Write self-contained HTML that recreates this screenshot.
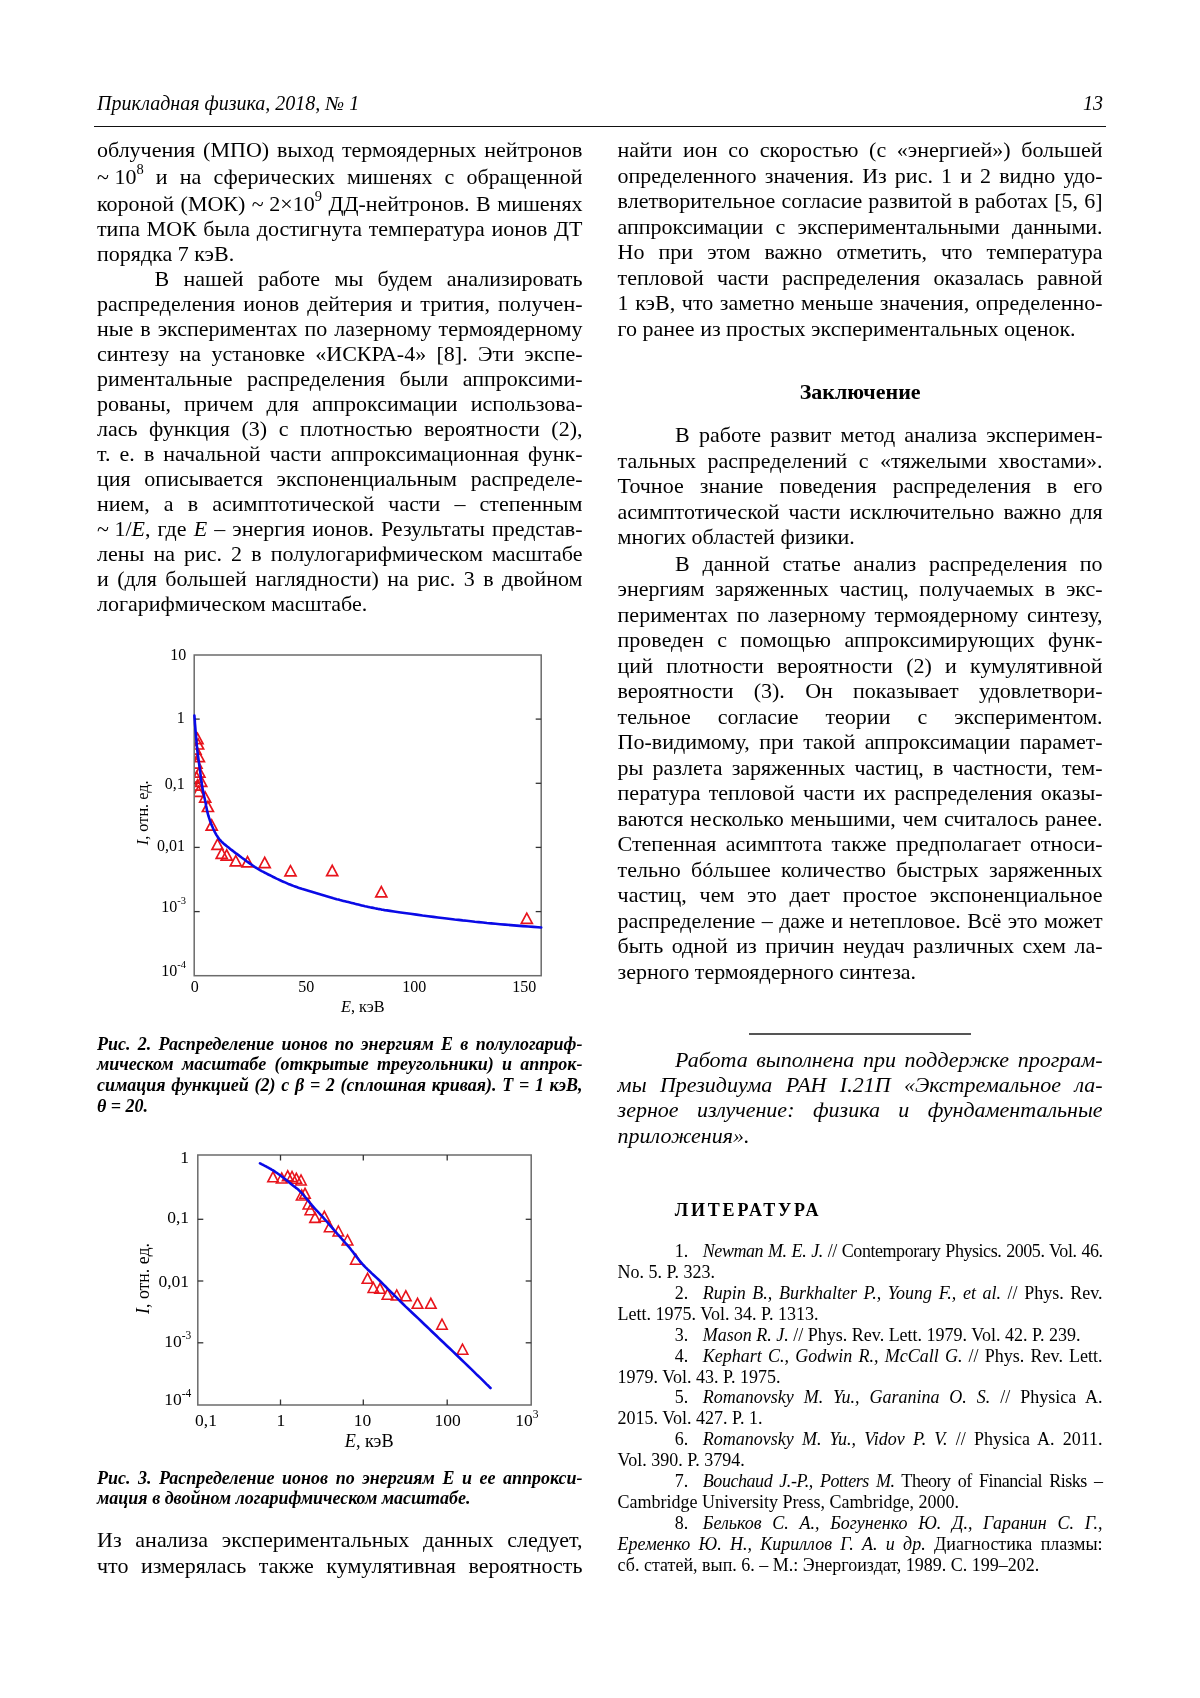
<!DOCTYPE html>
<html lang="ru"><head><meta charset="utf-8"><title>Прикладная физика, 2018, № 1</title><style>
html,body{margin:0;padding:0;background:#fff;}
body{width:1200px;height:1698px;position:relative;overflow:hidden;-webkit-font-smoothing:antialiased;font-family:"Liberation Serif","Noto Serif CJK SC",serif;color:#000;}
.l{position:absolute;white-space:nowrap;line-height:30px;height:30px;}
#pg{position:absolute;left:0;top:0;width:1200px;height:1698px;will-change:transform;}
.b{font-size:22px;}
.bi{font-size:22px;font-style:italic;}
.bb{font-size:22px;font-weight:bold;}
.hd{font-size:20px;font-style:italic;}
.lit{font-size:18px;font-weight:bold;letter-spacing:2.83px;}
.rf{font-size:18px;}
.cap{font-size:18px;font-weight:bold;font-style:italic;}
.sup{font-size:14.5px;position:relative;top:-10px;}
.ns{word-spacing:0;}
.m{display:inline-block;width:0;height:0;}
.fig{position:absolute;left:0;top:0;}
.rule{position:absolute;background:#111;}
</style></head><body><div id="pg">
<div class="rule" style="left:94px;top:125.6px;width:1012.3px;height:1.4px"></div><div class="rule" style="left:749px;top:1033.1px;width:222px;height:1.5px;background:#555"></div>
<div class="l hd" style="top:87.80px;left:97.00px;">Прикладная физика, 2018, № 1</div>
<div class="l hd" style="top:87.80px;right:97.00px;">13</div>
<div class="l b" style="top:135.10px;left:97.00px;word-spacing:2.488px;">облучения (МПО) выход термоядерных нейтронов</div>
<div class="l b" style="top:161.60px;left:97.00px;word-spacing:6.674px;"><span>~<span class="ns">&nbsp;</span>10<span class="sup">8</span> и на сферических мишенях с обращенной</span></div>
<div class="l b" style="top:188.60px;left:97.00px;word-spacing:0.972px;"><span>короной (МОК) ~<span class="ns">&nbsp;</span>2×10<span class="sup">9</span> ДД-нейтронов. В мишенях</span></div>
<div class="l b" style="top:213.60px;left:97.00px;word-spacing:1.148px;">типа МОК была достигнута температура ионов ДТ</div>
<div class="l b" style="top:238.75px;left:97.00px;">порядка 7 кэВ.</div>
<div class="l b" style="top:263.75px;left:154.50px;word-spacing:8.909px;">В нашей работе мы будем анализировать</div>
<div class="l b" style="top:288.75px;left:97.00px;word-spacing:2.616px;">распределения ионов дейтерия и трития, получен-</div>
<div class="l b" style="top:313.75px;left:97.00px;word-spacing:1.475px;">ные в экспериментах по лазерному термоядерному</div>
<div class="l b" style="top:338.75px;left:97.00px;word-spacing:4.857px;">синтезу на установке «ИСКРА-4» [8]. Эти экспе-</div>
<div class="l b" style="top:363.75px;left:97.00px;word-spacing:9.000px;">риментальные распределения были аппроксими-</div>
<div class="l b" style="top:388.75px;left:97.00px;word-spacing:7.660px;">рованы, причем для аппроксимации использова-</div>
<div class="l b" style="top:413.75px;left:97.00px;word-spacing:6.081px;">лась функция (3) с плотностью вероятности (2),</div>
<div class="l b" style="top:438.75px;left:97.00px;word-spacing:3.576px;">т. е. в начальной части аппроксимационная функ-</div>
<div class="l b" style="top:463.75px;left:97.00px;word-spacing:8.203px;">ция описывается экспоненциальным распределе-</div>
<div class="l b" style="top:488.75px;left:97.00px;word-spacing:8.630px;">нием, а в асимптотической части – степенным</div>
<div class="l b" style="top:513.75px;left:97.00px;word-spacing:1.625px;"><span>~<span class="ns">&nbsp;</span>1/<i>E</i>, где <i>E</i> – энергия ионов. Результаты представ-</span></div>
<div class="l b" style="top:538.75px;left:97.00px;word-spacing:3.578px;">лены на рис. 2 в полулогарифмическом масштабе</div>
<div class="l b" style="top:563.75px;left:97.00px;word-spacing:2.967px;">и (для большей наглядности) на рис. 3 в двойном</div>
<div class="l b" style="top:588.75px;left:97.00px;">логарифмическом масштабе.</div>
<div class="l b" style="top:1525.40px;left:97.00px;word-spacing:8.262px;">Из анализа экспериментальных данных следует,</div>
<div class="l b" style="top:1550.80px;left:97.00px;word-spacing:6.988px;">что измерялась также кумулятивная вероятность</div>
<div class="l b" style="top:135.25px;left:617.60px;word-spacing:5.188px;">найти ион со скоростью (с «энергией») большей</div>
<div class="l b" style="top:160.73px;left:617.60px;word-spacing:2.629px;">определенного значения. Из рис. 1 и 2 видно удо-</div>
<div class="l b" style="top:186.21px;left:617.60px;word-spacing:0.674px;">влетворительное согласие развитой в работах [5, 6]</div>
<div class="l b" style="top:211.69px;left:617.60px;word-spacing:6.823px;">аппроксимации с экспериментальными данными.</div>
<div class="l b" style="top:237.17px;left:617.60px;word-spacing:8.565px;">Но при этом важно отметить, что температура</div>
<div class="l b" style="top:262.65px;left:617.60px;word-spacing:7.680px;">тепловой части распределения оказалась равной</div>
<div class="l b" style="top:288.13px;left:617.60px;word-spacing:1.117px;">1 кэВ, что заметно меньше значения, определенно-</div>
<div class="l b" style="top:313.61px;left:617.60px;">го ранее из простых экспериментальных оценок.</div>
<div class="l bb" style="top:377.20px;left:860.20px;transform:translateX(-50%);">Заключение</div>
<div class="l b" style="top:420.00px;left:675.10px;word-spacing:3.666px;">В работе развит метод анализа эксперимен-</div>
<div class="l b" style="top:445.50px;left:617.60px;word-spacing:6.016px;">тальных распределений с «тяжелыми хвостами».</div>
<div class="l b" style="top:471.00px;left:617.60px;word-spacing:10.594px;">Точное знание поведения распределения в его</div>
<div class="l b" style="top:496.50px;left:617.60px;word-spacing:3.543px;">асимптотической части исключительно важно для</div>
<div class="l b" style="top:522.00px;left:617.60px;">многих областей физики.</div>
<div class="l b" style="top:548.50px;left:675.10px;word-spacing:7.184px;">В данной статье анализ распределения по</div>
<div class="l b" style="top:574.00px;left:617.60px;word-spacing:5.203px;">энергиям заряженных частиц, получаемых в экс-</div>
<div class="l b" style="top:599.50px;left:617.60px;word-spacing:3.234px;">периментах по лазерному термоядерному синтезу,</div>
<div class="l b" style="top:625.00px;left:617.60px;word-spacing:7.887px;">проведен с помощью аппроксимирующих функ-</div>
<div class="l b" style="top:650.50px;left:617.60px;word-spacing:7.784px;">ций плотности вероятности (2) и кумулятивной</div>
<div class="l b" style="top:676.00px;left:617.60px;word-spacing:14.789px;">вероятности (3). Он показывает удовлетвори-</div>
<div class="l b" style="top:701.50px;left:617.60px;word-spacing:21.484px;">тельное согласие теории с экспериментом.</div>
<div class="l b" style="top:727.00px;left:617.60px;word-spacing:3.977px;">По-видимому, при такой аппроксимации парамет-</div>
<div class="l b" style="top:752.50px;left:617.60px;word-spacing:3.724px;">ры разлета заряженных частиц, в частности, тем-</div>
<div class="l b" style="top:778.00px;left:617.60px;word-spacing:2.744px;">пература тепловой части их распределения оказы-</div>
<div class="l b" style="top:803.50px;left:617.60px;word-spacing:1.191px;">ваются несколько меньшими, чем считалось ранее.</div>
<div class="l b" style="top:829.00px;left:617.60px;word-spacing:3.805px;">Степенная асимптота также предполагает относи-</div>
<div class="l b" style="top:854.50px;left:617.60px;word-spacing:4.785px;">тельно бóльшее количество быстрых заряженных</div>
<div class="l b" style="top:880.00px;left:617.60px;word-spacing:7.237px;">частиц, чем это дает простое экспоненциальное</div>
<div class="l b" style="top:905.50px;left:617.60px;word-spacing:0.888px;">распределение – даже и нетепловое. Всё это может</div>
<div class="l b" style="top:931.00px;left:617.60px;word-spacing:2.984px;">быть одной из причин неудач различных схем ла-</div>
<div class="l b" style="top:956.50px;left:617.60px;">зерного термоядерного синтеза.</div>
<div class="l bi" style="top:1044.80px;left:675.10px;word-spacing:3.125px;">Работа выполнена при поддержке програм-</div>
<div class="l bi" style="top:1070.13px;left:617.60px;word-spacing:7.888px;">мы Президиума РАН I.21П «Экстремальное ла-</div>
<div class="l bi" style="top:1095.46px;left:617.60px;word-spacing:12.977px;">зерное излучение: физика и фундаментальные</div>
<div class="l bi" style="top:1120.79px;left:617.60px;">приложения».</div>
<div class="l lit" style="top:1195.25px;left:674.70px;">ЛИТЕРАТУРА</div>
<div class="l rf" style="top:1236.20px;left:674.80px;">1.</div>
<div class="l rf" style="top:1236.20px;left:702.80px;letter-spacing:-0.45px;word-spacing:0.914px;"><span><i>Newman M. E. J.</i> // Contemporary Physics. 2005. Vol. 46.</span></div>
<div class="l rf" style="top:1257.09px;left:617.60px;">No. 5. P. 323.</div>
<div class="l rf" style="top:1277.98px;left:674.80px;">2.</div>
<div class="l rf" style="top:1277.98px;left:702.80px;word-spacing:2.077px;"><span><i>Rupin B., Burkhalter P., Young F., et al.</i> // Phys. Rev.</span></div>
<div class="l rf" style="top:1298.87px;left:617.60px;">Lett. 1975. Vol. 34. P. 1313.</div>
<div class="l rf" style="top:1319.76px;left:674.80px;">3.</div>
<div class="l rf" style="top:1319.76px;left:702.80px;"><span><i>Mason R. J.</i> // Phys. Rev. Lett. 1979. Vol. 42. P. 239.</span></div>
<div class="l rf" style="top:1340.65px;left:674.80px;">4.</div>
<div class="l rf" style="top:1340.65px;left:702.80px;word-spacing:1.717px;"><span><i>Kephart C., Godwin R., McCall G.</i> // Phys. Rev. Lett.</span></div>
<div class="l rf" style="top:1361.54px;left:617.60px;">1979. Vol. 43. P. 1975.</div>
<div class="l rf" style="top:1382.43px;left:674.80px;">5.</div>
<div class="l rf" style="top:1382.43px;left:702.80px;word-spacing:5.432px;"><span><i>Romanovsky M. Yu., Garanina O. S.</i> // Physica A.</span></div>
<div class="l rf" style="top:1403.32px;left:617.60px;">2015. Vol. 427. P. 1.</div>
<div class="l rf" style="top:1424.21px;left:674.80px;">6.</div>
<div class="l rf" style="top:1424.21px;left:702.80px;word-spacing:3.681px;"><span><i>Romanovsky M. Yu., Vidov P. V.</i> // Physica A. 2011.</span></div>
<div class="l rf" style="top:1445.10px;left:617.60px;">Vol. 390. P. 3794.</div>
<div class="l rf" style="top:1465.99px;left:674.80px;">7.</div>
<div class="l rf" style="top:1465.99px;left:702.80px;letter-spacing:-0.45px;word-spacing:3.102px;"><span><i>Bouchaud J.-P., Potters M.</i> Theory of Financial Risks –</span></div>
<div class="l rf" style="top:1486.88px;left:617.60px;">Cambridge University Press, Cambridge, 2000.</div>
<div class="l rf" style="top:1507.77px;left:674.80px;">8.</div>
<div class="l rf" style="top:1507.77px;left:702.80px;word-spacing:6.219px;"><span><i>Бельков С. А., Богуненко Ю. Д., Гаранин С. Г.,</i></span></div>
<div class="l rf" style="top:1528.66px;left:617.60px;word-spacing:3.811px;"><span><i>Еременко Ю. Н., Кириллов Г. А. и др.</i> Диагностика плазмы:</span></div>
<div class="l rf" style="top:1549.55px;left:617.60px;">сб. статей, вып. 6. – М.: Энергоиздат, 1989. С. 199–202.</div>
<div class="l cap" style="top:1028.60px;left:97.00px;word-spacing:2.787px;">Рис. 2. Распределение ионов по энергиям E в полулогариф-</div>
<div class="l cap" style="top:1049.40px;left:97.00px;word-spacing:3.816px;">мическом масштабе (открытые треугольники) и аппрок-</div>
<div class="l cap" style="top:1070.20px;left:97.00px;word-spacing:1.203px;">симация функцией (2) с β = 2 (сплошная кривая). T = 1 кэВ,</div>
<div class="l cap" style="top:1091.00px;left:97.00px;">θ = 20.</div>
<div class="l cap" style="top:1462.90px;left:97.00px;word-spacing:3.026px;">Рис. 3. Распределение ионов по энергиям E и ее аппрокси-</div>
<div class="l cap" style="top:1483.10px;left:97.00px;">мация в двойном логарифмическом масштабе.</div>
<svg class="fig" width="1200" height="1698" viewBox="0 0 1200 1698" font-family="Liberation Serif, serif" fill="#000">
<rect x="194.2" y="655.0" width="347.0" height="320.7" fill="none" stroke="#6b6b6b" stroke-width="1.5"/>
<line x1="194.2" y1="719.1" x2="199.7" y2="719.1" stroke="#333" stroke-width="1.3"/>
<line x1="535.7" y1="719.1" x2="541.2" y2="719.1" stroke="#333" stroke-width="1.3"/>
<line x1="194.2" y1="783.3" x2="199.7" y2="783.3" stroke="#333" stroke-width="1.3"/>
<line x1="535.7" y1="783.3" x2="541.2" y2="783.3" stroke="#333" stroke-width="1.3"/>
<line x1="194.2" y1="847.4" x2="199.7" y2="847.4" stroke="#333" stroke-width="1.3"/>
<line x1="535.7" y1="847.4" x2="541.2" y2="847.4" stroke="#333" stroke-width="1.3"/>
<line x1="194.2" y1="911.6" x2="199.7" y2="911.6" stroke="#333" stroke-width="1.3"/>
<line x1="535.7" y1="911.6" x2="541.2" y2="911.6" stroke="#333" stroke-width="1.3"/>
<g font-size="16" text-anchor="end">
<text x="186.3" y="660.3">10</text>
<text x="184.7" y="722.8">1</text>
<text x="184.7" y="789">0,1</text>
<text x="185.0" y="850.5">0,01</text>
<text x="186" y="911.5">10<tspan font-size="10.5" dy="-7.4">-3</tspan></text>
<text x="186" y="975.7">10<tspan font-size="10.5" dy="-7.4">-4</tspan></text>
</g>
<g font-size="16" text-anchor="middle">
<text x="194.7" y="992">0</text>
<text x="306.2" y="992">50</text>
<text x="414.2" y="992">100</text>
<text x="524.2" y="992">150</text>
</g>
<text x="341" y="1011.7" font-size="16.3"><tspan font-style="italic">E</tspan>, кэВ</text>
<text transform="translate(147.8,812.8) rotate(-90)" font-size="16.3" text-anchor="middle"><tspan font-style="italic">I</tspan>, отн. ед.</text>
<clipPath id="c2"><rect x="194.9" y="655.0" width="346.3" height="320.7"/></clipPath>
<g fill="none" stroke="#e8141c" stroke-width="1.7" clip-path="url(#c2)">
<polygon points="197.5,733.4 192.0,743.6 203.0,743.6"/>
<polygon points="198.1,738.8 192.6,749.0 203.6,749.0"/>
<polygon points="195.5,743.9 190.0,754.1 201.0,754.1"/>
<polygon points="198.9,751.5 193.4,761.7 204.4,761.7"/>
<polygon points="196.5,757.9 191.0,768.1 202.0,768.1"/>
<polygon points="199.4,766.9 193.9,777.1 204.9,777.1"/>
<polygon points="196.5,771.9 191.0,782.1 202.0,782.1"/>
<polygon points="201.2,776.1 195.7,786.3 206.7,786.3"/>
<polygon points="197.5,779.9 192.0,790.1 203.0,790.1"/>
<polygon points="198.5,786.2 193.0,796.4 204.0,796.4"/>
<polygon points="205.2,792.0 199.7,802.2 210.7,802.2"/>
<polygon points="207.9,801.3 202.4,811.5 213.4,811.5"/>
<polygon points="211.7,819.9 206.2,830.1 217.2,830.1"/>
<polygon points="217.5,839.1 212.0,849.3 223.0,849.3"/>
<polygon points="221.7,848.2 216.2,858.4 227.2,858.4"/>
<polygon points="226.7,849.9 221.2,860.1 232.2,860.1"/>
<polygon points="235.8,855.7 230.3,865.9 241.3,865.9"/>
<polygon points="247.5,856.6 242.0,866.8 253.0,866.8"/>
<polygon points="264.7,857.4 259.2,867.6 270.2,867.6"/>
<polygon points="290.5,865.7 285.0,875.9 296.0,875.9"/>
<polygon points="332.2,865.4 326.7,875.6 337.7,875.6"/>
<polygon points="381.3,886.6 375.8,896.8 386.8,896.8"/>
<polygon points="526.8,913.2 521.3,923.4 532.3,923.4"/>
</g>
<polyline points="194.4,715.5 194.5,716.8 194.6,718.5 194.8,720.5 194.9,722.8 195.1,725.2 195.3,727.6 195.5,730.1 195.7,732.4 195.9,734.7 196.1,737.0 196.3,739.4 196.5,741.8 196.7,744.1 196.9,746.5 197.2,748.9 197.4,751.2 197.7,753.5 198.0,755.7 198.3,757.9 198.6,760.2 198.9,762.4 199.2,764.5 199.5,766.7 199.8,768.9 200.1,771.1 200.4,773.3 200.6,775.5 200.9,777.7 201.2,779.8 201.5,782.0 201.8,784.0 202.1,786.0 202.4,787.9 202.8,789.7 203.1,791.4 203.5,793.1 203.9,794.8 204.2,796.5 204.6,798.2 205.0,800.0 205.4,801.9 205.8,803.8 206.1,805.8 206.5,807.8 206.9,809.7 207.3,811.7 207.8,813.6 208.3,815.5 208.9,817.3 209.5,819.2 210.1,821.0 210.8,822.8 211.4,824.6 212.2,826.3 212.9,827.9 213.6,829.5 214.3,831.0 215.0,832.4 215.8,833.8 216.5,835.1 217.3,836.3 218.1,837.6 219.0,838.8 220.0,840.0 221.1,841.2 222.2,842.3 223.3,843.3 224.6,844.4 225.9,845.4 227.2,846.5 228.6,847.6 230.0,848.7 231.5,849.9 233.1,851.1 234.7,852.4 236.4,853.7 238.2,854.9 239.9,856.2 241.6,857.5 243.3,858.7 245.0,859.9 246.6,861.2 248.3,862.4 250.0,863.6 251.7,864.8 253.4,866.0 255.0,867.1 256.7,868.2 258.4,869.2 260.0,870.2 261.7,871.1 263.4,871.9 265.0,872.8 266.7,873.6 268.3,874.5 270.0,875.3 271.7,876.1 273.3,877.0 275.0,877.8 276.6,878.6 278.3,879.4 280.0,880.2 281.6,881.0 283.3,881.7 285.0,882.4 286.6,883.1 288.3,883.9 290.0,884.5 291.7,885.2 293.4,885.9 295.0,886.5 296.7,887.1 298.4,887.7 300.0,888.2 301.7,888.8 303.4,889.3 305.0,889.8 306.7,890.3 308.3,890.8 310.0,891.3 311.7,891.8 313.3,892.3 315.0,892.8 316.6,893.3 318.3,893.8 320.0,894.3 321.6,894.8 323.3,895.3 325.0,895.8 326.6,896.3 328.3,896.8 330.0,897.3 331.7,897.8 333.4,898.3 335.0,898.7 336.7,899.2 338.4,899.6 340.0,900.1 341.7,900.5 343.4,900.9 345.0,901.3 346.7,901.7 348.3,902.1 350.0,902.5 351.7,902.9 353.3,903.3 355.0,903.8 356.6,904.2 358.3,904.6 360.0,905.0 361.6,905.4 363.3,905.8 365.0,906.2 366.6,906.5 368.3,906.9 370.0,907.3 371.7,907.6 373.4,907.9 375.0,908.3 376.7,908.6 378.2,908.9 379.3,909.1 380.4,909.3 381.5,909.6 382.8,909.8 384.6,910.1 386.9,910.4 390.0,910.9 394.0,911.5 398.9,912.2 404.5,913.0 410.4,913.8 416.5,914.6 422.5,915.5 428.2,916.2 433.3,916.9 437.9,917.5 442.3,918.0 446.6,918.5 450.6,919.0 454.6,919.5 458.6,919.9 462.6,920.4 466.7,920.8 470.8,921.2 474.8,921.7 478.8,922.1 482.9,922.5 486.9,923.0 491.1,923.4 495.5,923.8 500.0,924.2 505.1,924.6 510.7,925.1 516.7,925.6 522.7,926.1 528.4,926.5 533.6,926.9 538.0,927.2 541.2,927.5" fill="none" stroke="#0a0ae6" stroke-width="2.6" stroke-linejoin="round" stroke-linecap="round"/>
<rect x="197.8" y="1155.0" width="333.4" height="250.0" fill="none" stroke="#6b6b6b" stroke-width="1.5"/>
<line x1="197.8" y1="1219.3" x2="203.3" y2="1219.3" stroke="#333" stroke-width="1.3"/>
<line x1="525.7" y1="1219.3" x2="531.2" y2="1219.3" stroke="#333" stroke-width="1.3"/>
<line x1="197.8" y1="1281.0" x2="203.3" y2="1281.0" stroke="#333" stroke-width="1.3"/>
<line x1="525.7" y1="1281.0" x2="531.2" y2="1281.0" stroke="#333" stroke-width="1.3"/>
<line x1="197.8" y1="1342.8" x2="203.3" y2="1342.8" stroke="#333" stroke-width="1.3"/>
<line x1="525.7" y1="1342.8" x2="531.2" y2="1342.8" stroke="#333" stroke-width="1.3"/>
<line x1="280.5" y1="1155.0" x2="280.5" y2="1160.5" stroke="#333" stroke-width="1.3"/>
<line x1="280.5" y1="1399.5" x2="280.5" y2="1405.0" stroke="#333" stroke-width="1.3"/>
<line x1="363.3" y1="1155.0" x2="363.3" y2="1160.5" stroke="#333" stroke-width="1.3"/>
<line x1="363.3" y1="1399.5" x2="363.3" y2="1405.0" stroke="#333" stroke-width="1.3"/>
<line x1="447.2" y1="1155.0" x2="447.2" y2="1160.5" stroke="#333" stroke-width="1.3"/>
<line x1="447.2" y1="1399.5" x2="447.2" y2="1405.0" stroke="#333" stroke-width="1.3"/>
<g font-size="17.5" text-anchor="end">
<text x="189" y="1162.5">1</text>
<text x="189" y="1223.1">0,1</text>
<text x="189" y="1286.5">0,01</text>
<text x="191.3" y="1346.7">10<tspan font-size="11.5" dy="-8">-3</tspan></text>
<text x="191.3" y="1405">10<tspan font-size="11.5" dy="-8">-4</tspan></text>
</g>
<g font-size="17.5" text-anchor="middle">
<text x="206.0" y="1425.8">0,1</text>
<text x="280.8" y="1425.8">1</text>
<text x="362.5" y="1425.8">10</text>
<text x="447.5" y="1425.8">100</text>
</g>
<text x="515.3" y="1425.5" font-size="17.5">10<tspan font-size="11.5" dy="-8">3</tspan></text>
<text x="344.8" y="1446.5" font-size="18.2"><tspan font-style="italic">E</tspan>, кэВ</text>
<text transform="translate(148.8,1278.5) rotate(-90)" font-size="17.8" text-anchor="middle"><tspan font-style="italic">I</tspan>, отн. ед.</text>
<g fill="none" stroke="#e8141c" stroke-width="1.6">
<polygon points="273.0,1171.8 267.8,1181.8 278.2,1181.8"/>
<polygon points="281.7,1173.0 276.4,1183.0 286.9,1183.0"/>
<polygon points="287.7,1170.8 282.4,1180.8 292.9,1180.8"/>
<polygon points="292.0,1171.5 286.8,1181.5 297.2,1181.5"/>
<polygon points="296.3,1173.3 291.1,1183.3 301.6,1183.3"/>
<polygon points="301.0,1175.0 295.8,1185.0 306.2,1185.0"/>
<polygon points="305.0,1188.3 299.8,1198.3 310.2,1198.3"/>
<polygon points="301.7,1190.0 296.4,1200.0 306.9,1200.0"/>
<polygon points="308.3,1199.0 303.1,1209.0 313.6,1209.0"/>
<polygon points="310.3,1204.7 305.1,1214.7 315.6,1214.7"/>
<polygon points="315.0,1212.4 309.8,1222.4 320.2,1222.4"/>
<polygon points="324.3,1211.3 319.1,1221.3 329.6,1221.3"/>
<polygon points="329.7,1221.7 324.4,1231.7 334.9,1231.7"/>
<polygon points="338.3,1226.0 333.1,1236.0 343.6,1236.0"/>
<polygon points="347.5,1235.0 342.2,1245.0 352.8,1245.0"/>
<polygon points="355.8,1254.2 350.6,1264.2 361.1,1264.2"/>
<polygon points="367.5,1273.3 362.2,1283.3 372.8,1283.3"/>
<polygon points="373.3,1282.5 368.1,1292.5 378.6,1292.5"/>
<polygon points="380.0,1283.3 374.8,1293.3 385.2,1293.3"/>
<polygon points="387.5,1289.2 382.2,1299.2 392.8,1299.2"/>
<polygon points="396.7,1290.0 391.4,1300.0 401.9,1300.0"/>
<polygon points="405.8,1290.8 400.6,1300.8 411.1,1300.8"/>
<polygon points="417.5,1298.3 412.2,1308.3 422.8,1308.3"/>
<polygon points="430.8,1298.3 425.6,1308.3 436.1,1308.3"/>
<polygon points="442.0,1319.2 436.8,1329.2 447.2,1329.2"/>
<polygon points="462.5,1344.2 457.2,1354.2 467.8,1354.2"/>
</g>
<polyline points="260.0,1163.3 260.6,1163.6 261.5,1164.1 262.5,1164.6 263.6,1165.2 264.8,1165.8 266.0,1166.4 267.2,1167.1 268.3,1167.7 269.4,1168.3 270.5,1168.9 271.6,1169.6 272.7,1170.2 273.8,1170.9 274.9,1171.6 275.9,1172.3 277.0,1173.0 278.0,1173.7 279.1,1174.5 280.1,1175.2 281.1,1176.0 282.1,1176.7 283.1,1177.5 284.0,1178.2 285.0,1179.0 286.0,1179.8 286.9,1180.5 287.8,1181.3 288.7,1182.0 289.6,1182.8 290.5,1183.5 291.4,1184.3 292.3,1185.0 293.2,1185.7 294.0,1186.3 294.9,1186.9 295.7,1187.6 296.5,1188.2 297.3,1188.8 298.2,1189.5 299.0,1190.3 299.8,1191.1 300.7,1192.0 301.5,1192.9 302.4,1193.8 303.2,1194.8 304.0,1195.8 304.9,1196.7 305.7,1197.7 306.5,1198.7 307.4,1199.7 308.2,1200.7 309.0,1201.7 309.8,1202.7 310.6,1203.7 311.5,1204.7 312.3,1205.7 313.1,1206.6 314.0,1207.6 314.8,1208.5 315.6,1209.4 316.5,1210.3 317.3,1211.2 318.2,1212.1 319.0,1213.0 319.8,1213.9 320.6,1214.8 321.5,1215.6 322.3,1216.5 323.1,1217.4 323.9,1218.3 324.8,1219.3 325.7,1220.3 326.6,1221.4 327.6,1222.5 328.5,1223.6 329.5,1224.8 330.5,1226.0 331.6,1227.2 332.6,1228.4 333.7,1229.7 334.8,1231.0 336.1,1232.4 337.3,1233.8 338.6,1235.2 339.8,1236.6 341.1,1238.0 342.2,1239.3 343.3,1240.5 344.2,1241.6 345.0,1242.5 345.7,1243.3 346.4,1244.0 347.1,1244.9 347.9,1245.8 348.9,1246.9 350.0,1248.3 351.3,1250.0 352.8,1251.8 354.3,1253.9 356.0,1256.1 357.7,1258.3 359.5,1260.6 361.4,1262.8 363.3,1265.0 365.3,1267.1 367.4,1269.2 369.6,1271.3 371.8,1273.4 374.1,1275.5 376.4,1277.6 378.7,1279.8 381.0,1282.0 383.3,1284.3 385.5,1286.5 387.8,1288.8 390.1,1291.1 392.5,1293.5 394.9,1295.9 397.4,1298.4 400.0,1301.0 402.8,1303.7 405.7,1306.6 408.8,1309.5 411.9,1312.5 415.1,1315.5 418.2,1318.4 421.2,1321.3 424.0,1324.0 426.7,1326.5 429.2,1328.9 431.6,1331.2 434.0,1333.5 436.4,1335.8 438.8,1338.1 441.3,1340.5 444.0,1343.0 446.8,1345.7 449.8,1348.5 452.8,1351.4 455.8,1354.3 458.9,1357.3 462.0,1360.2 465.0,1363.1 468.0,1366.0 471.0,1368.9 474.3,1372.1 477.5,1375.3 480.8,1378.4 483.8,1381.4 486.5,1384.1 488.8,1386.3 490.5,1388.0" fill="none" stroke="#0a0ae6" stroke-width="2.6" stroke-linejoin="round" stroke-linecap="round"/>
</svg>
</div></body></html>
